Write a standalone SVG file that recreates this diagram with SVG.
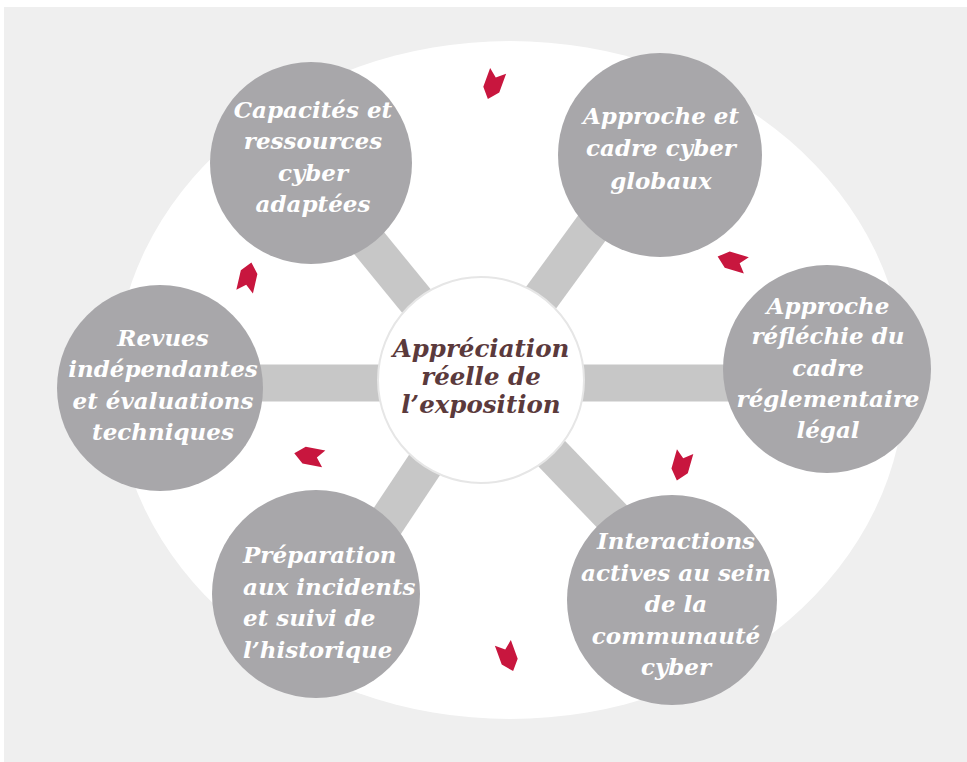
<svg xmlns="http://www.w3.org/2000/svg" width="967" height="762" viewBox="0 0 967 762">
<style>
.bub{fill:#a8a7aa}
.lbl{font-family:"DejaVu Serif","Liberation Serif",serif;font-weight:bold;font-style:italic;font-size:23px;fill:#ffffff;text-anchor:middle}
.st{text-anchor:start}
.ctr{font-family:"DejaVu Serif","Liberation Serif",serif;font-weight:bold;font-style:italic;font-size:24.5px;fill:#5b3a3c;text-anchor:middle}
.spoke{stroke:#c7c7c7;stroke-width:37;fill:none}
.arr{fill:#c8163e}
</style>
<defs>
<path id="chev" d="M15,0 L5,-8.5 L-15,-8.5 L-8,0 L-15,8.5 L5,8.5 Z"/>
</defs>
<rect x="4" y="7" width="963" height="755" fill="#efefef"/>
<ellipse cx="510" cy="380" rx="395" ry="339" fill="#ffffff"/>
<g id="connectors">
<line class="spoke" x1="481" y1="380" x2="360" y2="232"/>
<line class="spoke" x1="481" y1="380" x2="605" y2="210"/>
<line class="spoke" x1="481" y1="383" x2="745" y2="383"/>
<line class="spoke" x1="481" y1="380" x2="625" y2="530"/>
<line class="spoke" x1="481" y1="380" x2="378" y2="535"/>
<line class="spoke" x1="481" y1="383" x2="235" y2="383"/>
</g>
<g id="arrows">
<use href="#chev" class="arr" transform="translate(493,85) rotate(110)"/>
<use href="#chev" class="arr" transform="translate(732,261) rotate(197)"/>
<use href="#chev" class="arr" transform="translate(681,466) rotate(106)"/>
<use href="#chev" class="arr" transform="translate(508,657) rotate(70)"/>
<use href="#chev" class="arr" transform="translate(309,456) rotate(191)"/>
<use href="#chev" class="arr" transform="translate(248,277) rotate(283)"/>
</g>
<g id="center">
<circle cx="481" cy="380" r="103" fill="#ffffff" stroke="#e6e6e6" stroke-width="2"/>
<text class="ctr" x="481" y="357">Appréciation</text>
<text class="ctr" x="481" y="385">réelle de</text>
<text class="ctr" x="481" y="413">l’exposition</text>
</g>
<g id="n1">
<circle class="bub" cx="311" cy="163" r="101"/>
<text class="lbl" x="313" y="118">Capacités et</text>
<text class="lbl" x="313" y="149">ressources</text>
<text class="lbl" x="313" y="181">cyber</text>
<text class="lbl" x="313" y="212">adaptées</text>
</g>
<g id="n2">
<circle class="bub" cx="660" cy="155" r="102"/>
<text class="lbl" x="661" y="124">Approche et</text>
<text class="lbl" x="661" y="156">cadre cyber</text>
<text class="lbl" x="661" y="189">globaux</text>
</g>
<g id="n3">
<circle class="bub" cx="827" cy="369" r="104"/>
<text class="lbl" x="828" y="314">Approche</text>
<text class="lbl" x="828" y="344">réfléchie du</text>
<text class="lbl" x="828" y="376">cadre</text>
<text class="lbl" x="828" y="407">réglementaire</text>
<text class="lbl" x="828" y="438">légal</text>
</g>
<g id="n4">
<circle class="bub" cx="672" cy="600" r="105"/>
<text class="lbl" x="676" y="549">Interactions</text>
<text class="lbl" x="676" y="581">actives au sein</text>
<text class="lbl" x="676" y="612">de la</text>
<text class="lbl" x="676" y="644">communauté</text>
<text class="lbl" x="676" y="675">cyber</text>
</g>
<g id="n5">
<circle class="bub" cx="316" cy="594" r="104"/>
<text class="lbl st" x="243" y="563">Préparation</text>
<text class="lbl st" x="243" y="595">aux incidents</text>
<text class="lbl st" x="243" y="626">et suivi de</text>
<text class="lbl st" x="243" y="658">l’historique</text>
</g>
<g id="n6">
<circle class="bub" cx="160" cy="388" r="103"/>
<text class="lbl" x="163" y="346">Revues</text>
<text class="lbl" x="163" y="377">indépendantes</text>
<text class="lbl" x="163" y="409">et évaluations</text>
<text class="lbl" x="163" y="440">techniques</text>
</g>
</svg>
